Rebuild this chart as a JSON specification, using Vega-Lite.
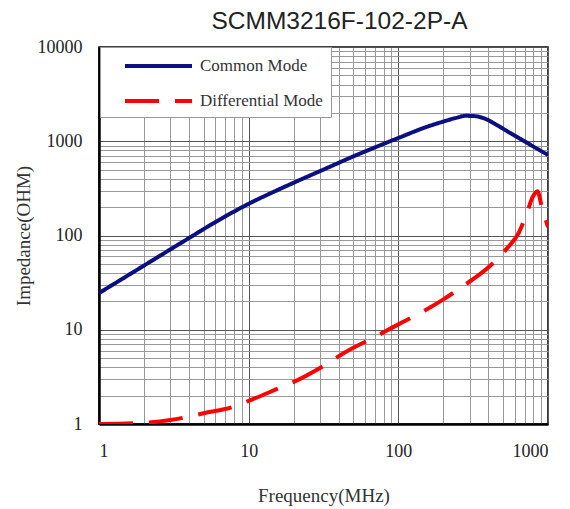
{
  "$schema": "https://vega.github.io/schema/vega-lite/v6.json",
  "width": 449,
  "height": 377,
  "autosize": {"type": "none"},
  "padding": {"left": 99, "top": 47, "right": 22, "bottom": 85},
  "background": "white",
  "title": {
    "text": "SCMM3216F-102-2P-A",
    "font": "Liberation Sans",
    "fontSize": 24.5,
    "fontWeight": "normal",
    "color": "#222222",
    "anchor": "middle",
    "baseline": "bottom",
    "offset": 15,
    "dx": 16,
    "dy": 35
  },
  "config": {
    "view": {"stroke": "#000000", "strokeWidth": 1.5},
    "axis": {
      "labelFont": "Liberation Serif",
      "labelFontSize": 18,
      "labelColor": "#222222",
      "titleFont": "Liberation Serif",
      "titleFontSize": 19,
      "titleFontWeight": "normal",
      "titleColor": "#333333",
      "ticks": false,
      "domainColor": "#000000",
      "domainWidth": 2.5,
      "labelOverlap": false,
      "gridWidth": 1
    }
  },
  "data": {
    "values": [
      {"f": 1, "z": 24.5, "series": "Common Mode"},
      {"f": 1.5, "z": 36.3, "series": "Common Mode"},
      {"f": 2, "z": 48, "series": "Common Mode"},
      {"f": 3, "z": 71.2, "series": "Common Mode"},
      {"f": 4, "z": 94.1, "series": "Common Mode"},
      {"f": 5, "z": 116.9, "series": "Common Mode"},
      {"f": 7, "z": 159.8, "series": "Common Mode"},
      {"f": 10, "z": 217, "series": "Common Mode"},
      {"f": 15, "z": 295, "series": "Common Mode"},
      {"f": 20, "z": 363, "series": "Common Mode"},
      {"f": 32, "z": 505, "series": "Common Mode"},
      {"f": 50, "z": 690, "series": "Common Mode"},
      {"f": 70, "z": 862, "series": "Common Mode"},
      {"f": 100, "z": 1083, "series": "Common Mode"},
      {"f": 157, "z": 1433, "series": "Common Mode"},
      {"f": 200, "z": 1618, "series": "Common Mode"},
      {"f": 240, "z": 1760, "series": "Common Mode"},
      {"f": 282, "z": 1860, "series": "Common Mode"},
      {"f": 320, "z": 1850, "series": "Common Mode"},
      {"f": 375, "z": 1750, "series": "Common Mode"},
      {"f": 450, "z": 1500, "series": "Common Mode"},
      {"f": 564, "z": 1214, "series": "Common Mode"},
      {"f": 733, "z": 951, "series": "Common Mode"},
      {"f": 1000, "z": 715, "series": "Common Mode"},
      {"f": 1, "z": 1.0, "series": "Differential Mode"},
      {"f": 2, "z": 1.03, "series": "Differential Mode"},
      {"f": 3, "z": 1.1, "series": "Differential Mode"},
      {"f": 4, "z": 1.2, "series": "Differential Mode"},
      {"f": 5, "z": 1.3, "series": "Differential Mode"},
      {"f": 7.7, "z": 1.5, "series": "Differential Mode"},
      {"f": 10, "z": 1.76, "series": "Differential Mode"},
      {"f": 16.6, "z": 2.47, "series": "Differential Mode"},
      {"f": 20, "z": 2.8, "series": "Differential Mode"},
      {"f": 33.7, "z": 4.4, "series": "Differential Mode"},
      {"f": 43.6, "z": 5.7, "series": "Differential Mode"},
      {"f": 70, "z": 8.4, "series": "Differential Mode"},
      {"f": 100, "z": 11.4, "series": "Differential Mode"},
      {"f": 144, "z": 15.4, "series": "Differential Mode"},
      {"f": 200, "z": 21, "series": "Differential Mode"},
      {"f": 283, "z": 30.5, "series": "Differential Mode"},
      {"f": 400, "z": 46, "series": "Differential Mode"},
      {"f": 532, "z": 73, "series": "Differential Mode"},
      {"f": 640, "z": 108, "series": "Differential Mode"},
      {"f": 720, "z": 170, "series": "Differential Mode"},
      {"f": 790, "z": 256, "series": "Differential Mode"},
      {"f": 850, "z": 295, "series": "Differential Mode"},
      {"f": 910, "z": 200, "series": "Differential Mode"},
      {"f": 1000, "z": 123, "series": "Differential Mode"}
    ]
  },
  "mark": {"type": "line", "strokeWidth": 4, "interpolate": "monotone", "clip": true},
  "encoding": {
    "x": {
      "field": "f",
      "type": "quantitative",
      "scale": {"type": "log", "domain": [1, 1000], "nice": false},
      "axis": {
        "title": "Frequency(MHz)",
        "values": [1,2,3,4,5,6,7,8,9,10,20,30,40,50,60,70,80,90,100,200,300,400,500,600,700,800,900,1000],
        "format": "d",
        "labelExpr": "indexof([1,10,100,1000], datum.value) >= 0 ? datum.label : ''",
        "labelPadding": 18,
        "titlePadding": 26,
        "gridColor": {"condition": {"test": "indexof([1,10,100,1000], datum.value) >= 0", "value": "#555555"}, "value": "#999999"}
      }
    },
    "y": {
      "field": "z",
      "type": "quantitative",
      "scale": {"type": "log", "domain": [1, 10000], "nice": false},
      "axis": {
        "title": "Impedance(OHM)",
        "values": [1,2,3,4,5,6,7,8,9,10,20,30,40,50,60,70,80,90,100,200,300,400,500,600,700,800,900,1000,2000,3000,4000,5000,6000,7000,8000,9000,10000],
        "format": "d",
        "labelExpr": "indexof([1,10,100,1000,10000], datum.value) >= 0 ? datum.label : ''",
        "labelPadding": 17,
        "titlePadding": 4,
        "gridColor": {"condition": {"test": "indexof([1,10,100,1000,10000], datum.value) >= 0", "value": "#555555"}, "value": "#999999"}
      }
    },
    "color": {
      "field": "series",
      "type": "nominal",
      "scale": {"domain": ["Common Mode", "Differential Mode"], "range": ["#0b0f80", "#ff0000"]},
      "legend": {
        "title": null,
        "orient": "none",
        "legendX": 1,
        "legendY": 0,
        "fillColor": "#ffffff",
        "strokeColor": "#999999",
        "padding": 8,
        "symbolType": "M0.667,0H8.111",
        "symbolSize": 324,
        "symbolStrokeWidth": 4,
        "labelFont": "Liberation Serif",
        "labelFontSize": 17,
        "labelColor": "#333333",
        "labelOffset": 70,
        "rowPadding": 16
      }
    },
    "strokeDash": {
      "field": "series",
      "type": "nominal",
      "scale": {"domain": ["Common Mode", "Differential Mode"], "range": [[1, 0], [34, 16]]},
      "legend": null
    }
  }
}
